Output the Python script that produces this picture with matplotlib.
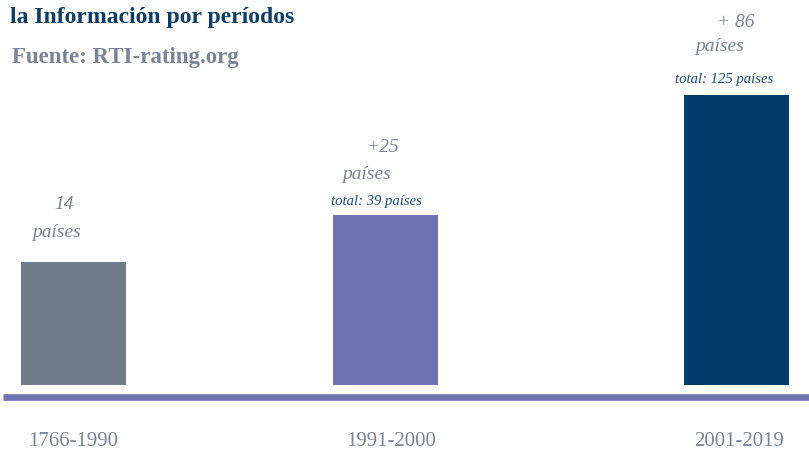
import matplotlib
matplotlib.use('Agg')
import matplotlib.pyplot as plt

# data
periods = ['1766-1990', '1991-2000', '2001-2019']
new_countries = ['14', '+25', '+ 86']
total_countries = [None, 'total: 39 países', 'total: 125 países']
# relative bar heights (tallest = 100)
bar_heights = [42.4, 58.6, 100]

bar_colors = ['#717c8b', '#6f73b3', '#003b6b']
gray_txt = '#7b8494'
blue_txt = '#1b4a7a'
title_col = '#0e3c69'

# layout (pixels on an 809 px wide canvas)
bar_centers = [73.5, 385.5, 736.5]
bar_width = 105

plt.rcParams['font.family'] = ['Liberation Serif', 'DejaVu Serif']

fig = plt.figure(figsize=(8.09, 4.5), dpi=100)
ax = fig.add_axes([0, 65 / 450, 1, 290 / 450])
ax.set_xlim(0, 809)
ax.set_ylim(0, 100)
ax.axis('off')

ax.bar(bar_centers, bar_heights, width=bar_width, color=bar_colors)

# baseline
fig.add_artist(plt.Line2D([3 / 809, 1], [1 - 397 / 450] * 2, color='#6f73b3',
                          linewidth=4.8, solid_capstyle='butt',
                          transform=fig.transFigure))

# labels above bars: (dx, dy) offsets in pixels from bar top centre
num_offsets = [(-9, 58), (-2, 68), (-1, 72)]
word_offsets = [(-17, 30), (-19, 41), (-17, 48)]
tot_offsets = [None, (-9, 14), (-12, 15)]

for i, x in enumerate(bar_centers):
    h = bar_heights[i]
    ax.annotate(new_countries[i], xy=(x, h), xytext=num_offsets[i],
                textcoords='offset pixels', ha='center', va='center',
                fontsize=14, style='italic', color=gray_txt)
    ax.annotate('países', xy=(x, h), xytext=word_offsets[i],
                textcoords='offset pixels', ha='center', va='center',
                fontsize=14, style='italic', color=gray_txt)
    if total_countries[i]:
        ax.annotate(total_countries[i], xy=(x, h), xytext=tot_offsets[i],
                    textcoords='offset pixels', ha='center', va='center',
                    fontsize=10.5, style='italic', color=blue_txt)

# period labels under the baseline
label_x = [73, 391, 739]
for lx, p in zip(label_x, periods):
    fig.text(lx / 809, 1 - 441 / 450, p, ha='center', va='center',
             fontsize=15, color=gray_txt)

# header
fig.text(10 / 809, 1 - 18 / 450, 'la Información por períodos', ha='left',
         va='center', fontsize=17, fontweight='bold', color=title_col)
fig.text(12 / 809, 1 - 58 / 450, 'Fuente: RTI-rating.org', ha='left',
         va='center', fontsize=16.5, fontweight='bold', color=gray_txt)

fig.savefig('out.png', dpi=100)
